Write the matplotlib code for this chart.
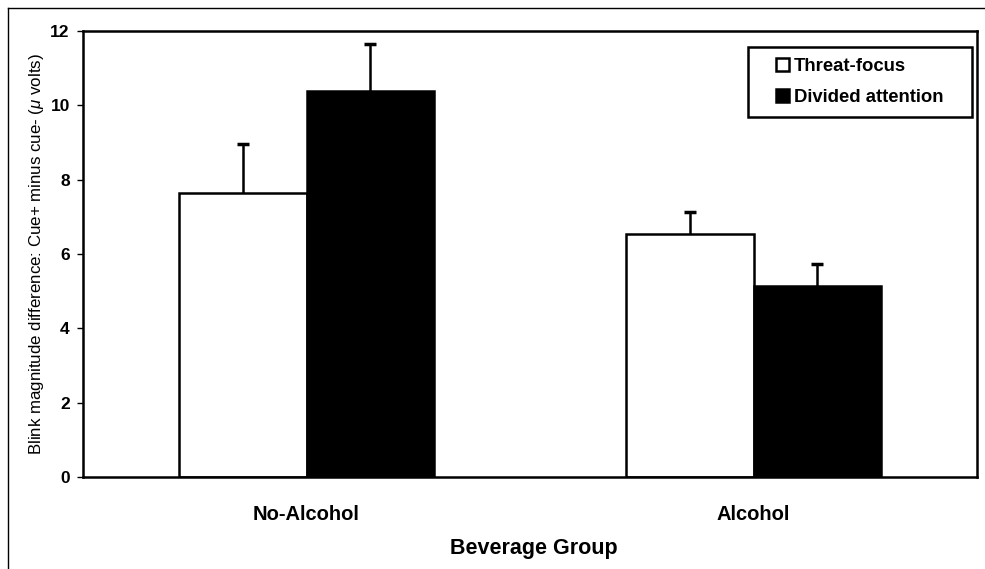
import matplotlib.pyplot as plt
from matplotlib.patches import Rectangle
import numpy as np

plt.rcParams['font.family'] = ['Liberation Sans', 'DejaVu Sans']
plt.rcParams['mathtext.fontset'] = 'custom'
plt.rcParams['mathtext.rm'] = 'Liberation Sans'
plt.rcParams['mathtext.it'] = 'Liberation Sans:italic'

groups = ['No-Alcohol', 'Alcohol']
series = ['Threat-focus', 'Divided attention']
threat_focus = [7.65, 6.55]
divided_attention = [10.38, 5.15]
threat_err = [1.32, 0.57]
divided_err = [1.27, 0.57]
y_ticks = [0, 2, 4, 6, 8, 10, 12]

fig = plt.figure(figsize=(9.85, 5.69), dpi=100)
ax = fig.add_axes([0.0843, 0.1617, 0.9076, 0.7838])

# outer frame lines of the scanned figure
fig.add_artist(plt.Line2D([8 / 985, 8 / 985], [0, 1 - 8 / 569], transform=fig.transFigure,
                          color='black', lw=1))
fig.add_artist(plt.Line2D([8 / 985, 1], [1 - 8 / 569, 1 - 8 / 569], transform=fig.transFigure,
                          color='black', lw=1))

x = np.arange(len(groups))
w = 0.285
ax.bar(x - w / 2, threat_focus, w, color='white', edgecolor='black', linewidth=1.8,
       label=series[0], zorder=2)
ax.bar(x + w / 2, divided_attention, w, color='black', edgecolor='black', linewidth=1.8,
       label=series[1], zorder=2)

# upper-only error bars
for xs, vals, errs in [(x - w / 2, threat_focus, threat_err),
                       (x + w / 2, divided_attention, divided_err)]:
    eb = ax.errorbar(xs, vals, yerr=[np.zeros(2), errs], fmt='none', ecolor='black',
                     elinewidth=1.8, capsize=4, capthick=2.5, zorder=1)
    eb[1][0].set_visible(False)

ax.set_xlim(-0.5, 1.5)
ax.set_ylim(0, 12)
ax.set_yticks(y_ticks)
ax.set_yticklabels([str(t) for t in y_ticks], fontsize=12.5, fontweight='bold')
ax.set_xticks(x)
ax.set_xticklabels(groups, fontsize=14.5, fontweight='bold')
ax.tick_params(axis='x', length=0, pad=20)
ax.tick_params(axis='y', direction='out', length=4.5, width=1, pad=5)
for s in ax.spines.values():
    s.set_linewidth(1.8)

ax.set_xlabel('Beverage Group', fontsize=15.5, fontweight='bold')
ax.xaxis.set_label_coords(0.504, -0.136)
ax.set_ylabel('Blink magnitude difference: Cue+ minus cue- ($\\mu$ volts)', fontsize=12.2)
ax.yaxis.set_label_coords(-0.041, 0.5)

# legend box (wider horizontal padding than vertical)
ax.add_patch(Rectangle((0.7438, 0.807), 0.2506, 0.157, transform=ax.transAxes,
                       facecolor='white', edgecolor='black', linewidth=1.8, zorder=4))
leg = ax.legend(loc='center', bbox_to_anchor=(0.869, 0.8857), frameon=False,
                prop={'weight': 'bold', 'size': 13.3},
                handlelength=0.7, handleheight=0.7, handletextpad=0.27,
                borderpad=0, labelspacing=0.8, borderaxespad=0)
leg.set_zorder(5)
for h in leg.legend_handles:
    h.set_linewidth(1.8)

fig.savefig('out.png', dpi=100)
